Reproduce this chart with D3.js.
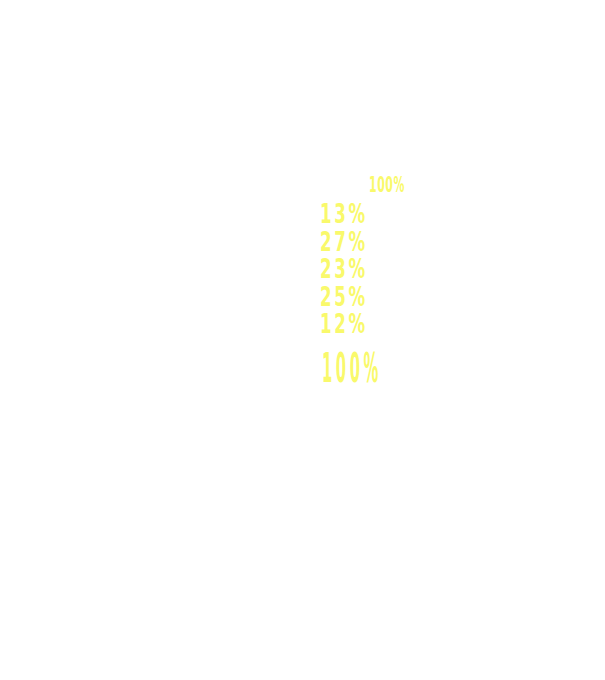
<!DOCTYPE html>
<html>
<head>
<meta charset="utf-8">
<script src="https://cdn.jsdelivr.net/npm/d3@7/dist/d3.min.js"></script>
<style>
  html, body { margin: 0; padding: 0; background: #ffffff; }
  svg { display: block; }
  text { font-family: "DejaVu Sans Condensed", "DejaVu Sans", sans-serif; }
</style>
</head>
<body>
<svg id="chart" width="605" height="680"></svg>
<script>
const categories = ["A", "B", "C", "D", "E"];
const values = [13, 27, 23, 25, 12];
const totalLabel = "100%";

const svg = d3.select("#chart");
const W = 605, H = 680;
const labelColor = "#f9f96b";

svg.append("rect").attr("width", W).attr("height", H).attr("fill", "#ffffff");

const total = d3.sum(values);

// stacked column (white on white, as in the reference)
const stackY = d3.scaleLinear().domain([0, total]).range([340, 200]);
let acc = 0;
const stacked = values.map((v, i) => { const s = { cat: categories[i], y0: acc, y1: acc + v }; acc += v; return s; });
svg.append("g").selectAll("rect").data(stacked).join("rect")
  .attr("x", 250).attr("width", 60)
  .attr("y", d => stackY(d.y1))
  .attr("height", d => stackY(d.y0) - stackY(d.y1))
  .attr("fill", "#ffffff");

// helper: horizontally condense a text so its width matches a target
function condense(sel, x, yPos, targetWidth) {
  const node = sel.node();
  const w = node.getComputedTextLength();
  const k = targetWidth / w;
  sel.attr("x", 0).attr("y", 0)
     .attr("transform", `translate(${x},${yPos}) scale(${k},1)`);
  return k;
}

// row labels
const y = d3.scalePoint().domain(categories).range([223, 333]);
const rows = svg.append("g");
const rowTexts = rows.selectAll("text").data(values).join("text")
  .attr("fill", labelColor)
  .attr("font-size", 27)
  .attr("font-weight", "bold")
  .attr("letter-spacing", 4)
  .text(d => d + "%");
const ref = rowTexts.filter(d => d === 27);
const kRow = 48 / ref.node().getComputedTextLength();
rowTexts.attr("transform", (d, i) => `translate(320,${y(categories[i])}) scale(${kRow},1)`);

// small total label on top
const topLbl = svg.append("text")
  .attr("fill", labelColor)
  .attr("font-size", 21)
  .attr("font-weight", "bold")
  .attr("letter-spacing", 1)
  .text(totalLabel);
condense(topLbl, 369, stackY(total) - 8, 36);

// big total label at bottom
const botLbl = svg.append("text")
  .attr("fill", labelColor)
  .attr("font-size", 41)
  .attr("font-weight", "bold")
  .attr("letter-spacing", 9)
  .text(d3.format(".0%")(total / 100));
condense(botLbl, 322, 382, 60);
</script>
</body>
</html>
